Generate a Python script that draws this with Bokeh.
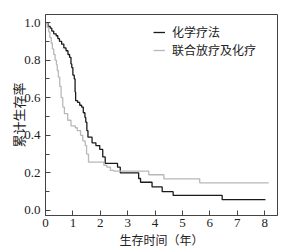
from bokeh.plotting import figure
from bokeh.models import FixedTicker, PrintfTickFormatter, Legend, LegendItem
from bokeh.embed import file_html
from bokeh.resources import INLINE

# Kaplan-Meier curves (time in years, cumulative survival)
chemo_t = [0, 0.09, 0.17, 0.23, 0.30, 0.39, 0.45, 0.51, 0.59, 0.67, 0.75, 0.82, 0.88,
           0.93, 0.96, 1.00, 1.05, 1.08, 1.10, 1.17, 1.25, 1.32, 1.38, 1.44, 1.47,
           1.51, 1.55, 1.70, 1.84, 1.98, 2.09, 2.18, 2.63, 2.73, 3.40, 3.47, 3.89,
           4.26, 4.66, 6.45, 8.03]
chemo_s = [1.0, 0.98, 0.97, 0.955, 0.94, 0.93, 0.915, 0.90, 0.885, 0.865, 0.85, 0.83, 0.815,
           0.78, 0.76, 0.72, 0.70, 0.63, 0.585, 0.575, 0.56, 0.55, 0.52, 0.495, 0.47,
           0.425, 0.39, 0.36, 0.345, 0.325, 0.285, 0.25, 0.23, 0.20, 0.17, 0.15, 0.125,
           0.10, 0.08, 0.057, 0.057]

combo_t = [0, 0.06, 0.12, 0.16, 0.21, 0.25, 0.30, 0.35, 0.40, 0.43, 0.47, 0.52, 0.57,
           0.63, 0.69, 0.81, 0.93, 1.09, 1.16, 1.28, 1.36, 1.45, 1.50, 1.57, 2.13,
           2.24, 2.37, 2.49, 3.77, 4.32, 5.63, 8.15]
combo_s = [1.0, 0.975, 0.95, 0.92, 0.89, 0.86, 0.83, 0.80, 0.775, 0.745, 0.71, 0.66, 0.60,
           0.55, 0.515, 0.48, 0.45, 0.44, 0.425, 0.40, 0.37, 0.345, 0.30, 0.257, 0.24,
           0.23, 0.213, 0.209, 0.19, 0.168, 0.147, 0.147]

x_ticks = [0, 1, 2, 3, 4, 5, 6, 7, 8]
y_ticks = [0.0, 0.2, 0.4, 0.6, 0.8, 1.0]
y_minor = [0.1, 0.3, 0.5, 0.7, 0.9]

labels = ["化学疗法", "联合放疗及化疗"]
x_title = "生存时间（年）"
y_title = "累计生存率"

TXT = "#222222"
AX = "#444444"

p = figure(width=293, height=252, output_backend="svg", toolbar_location=None,
           x_range=(0, 8.47), y_range=(-0.027, 1.043),
           min_border_left=45, min_border_right=16, min_border_top=14, min_border_bottom=37)
p.background_fill_color = "white"
p.border_fill_color = "white"
p.outline_line_color = AX
p.outline_line_width = 1
p.grid.visible = False

r1 = p.step(chemo_t, chemo_s, mode="after", line_color="#1a1a1a", line_width=1.3)
r2 = p.step(combo_t, combo_s, mode="after", line_color="#b8b8b8", line_width=1.3)

p.xaxis.ticker = FixedTicker(ticks=x_ticks)
p.yaxis.ticker = FixedTicker(ticks=y_ticks, minor_ticks=y_minor)
p.yaxis.formatter = PrintfTickFormatter(format="%.1f")

for ax in (p.xaxis[0], p.yaxis[0]):
    ax.axis_line_color = AX
    ax.major_tick_line_color = AX
    ax.minor_tick_line_color = AX
    ax.major_tick_in = 5
    ax.major_tick_out = 0
    ax.minor_tick_in = 4
    ax.minor_tick_out = 0
    ax.major_label_text_font = "Liberation Serif"
    ax.major_label_text_font_size = "13px"
    ax.major_label_text_color = TXT
    ax.axis_label_text_font = "Noto Sans CJK SC"
    ax.axis_label_text_font_style = "normal"
    ax.axis_label_text_color = TXT

p.xaxis.minor_tick_line_color = None
p.xaxis.major_label_standoff = 3
p.xaxis.axis_label = x_title
p.xaxis.axis_label_text_font_size = "12px"
p.xaxis.axis_label_standoff = 1
p.yaxis.major_label_standoff = 5
p.yaxis.axis_label = y_title
p.yaxis.axis_label_text_font_size = "13px"
p.yaxis.axis_label_standoff = -7


def make_legend(label, renderer, y):
    lg = Legend(items=[LegendItem(label=label, renderers=[renderer])],
                location=(108, y), orientation="vertical")
    lg.border_line_color = None
    lg.background_fill_alpha = 0
    lg.padding = 0
    lg.margin = 0
    lg.spacing = 0
    lg.glyph_width = 12
    lg.glyph_height = 14
    lg.label_height = 14
    lg.label_standoff = 7
    lg.label_text_font = "Noto Sans CJK SC"
    lg.label_text_font_size = "12px"
    lg.label_text_color = TXT
    return lg


p.add_layout(make_legend(labels[0], r1, 175))
p.add_layout(make_legend(labels[1], r2, 157))

open("out.html", "w").write(file_html(p, INLINE))
